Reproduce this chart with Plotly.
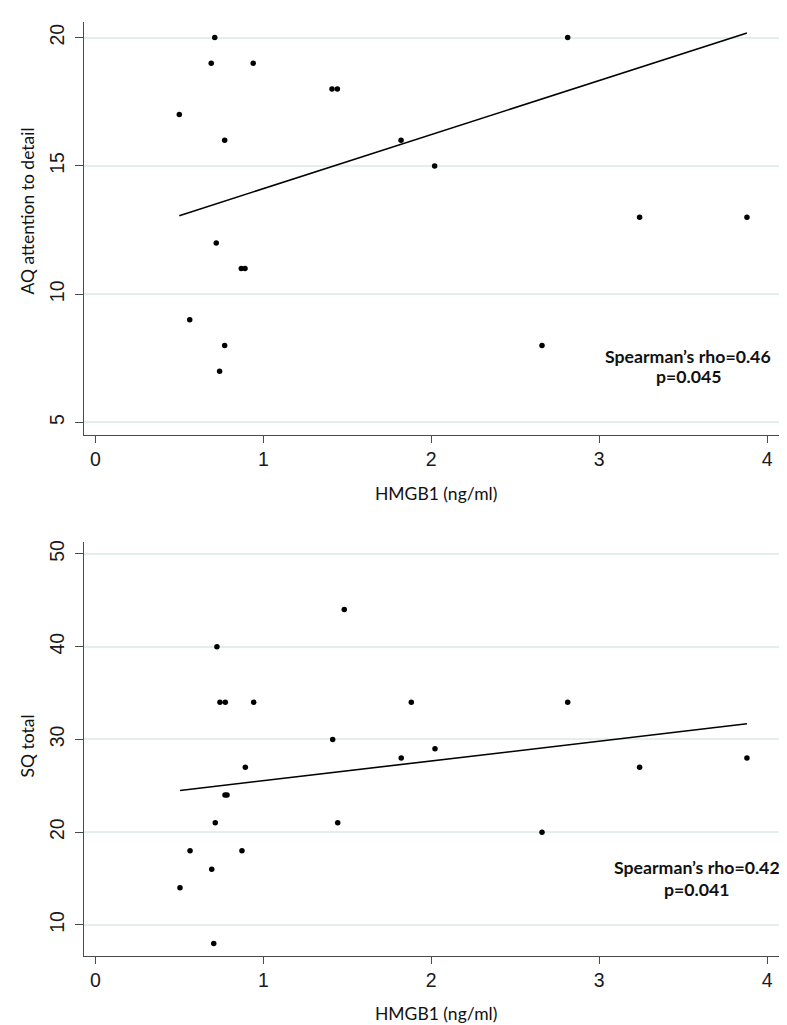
import plotly.graph_objects as go

W, H = 787, 1025

# ---- Data ----
hmgb1_aq = [0.711, 0.690, 0.940, 1.409, 1.441, 0.500, 0.770, 1.820, 0.720, 0.869,
            0.891, 0.562, 0.770, 0.740, 2.812, 2.020, 3.240, 3.879, 2.659]
aq_detail = [20, 19, 19, 18, 18, 17, 16, 16, 12, 11,
             11, 9, 8, 7, 20, 15, 13, 13, 8]
aq_fit_x = [0.500, 3.879]
aq_fit_y = [13.06, 20.18]

hmgb1_sq = [1.482, 0.724, 0.742, 0.774, 0.943, 1.413, 1.821, 0.893, 0.772, 0.784,
            0.714, 1.443, 0.564, 0.873, 0.693, 0.504, 0.705, 1.881, 2.812, 2.022,
            3.240, 3.879, 2.659]
sq_total = [44, 40, 34, 34, 34, 30, 28, 27, 24, 24,
            21, 21, 18, 18, 16, 14, 8, 34, 34, 29,
            27, 28, 20]
sq_fit_x = [0.504, 3.879]
sq_fit_y = [24.49, 31.68]

x_ticks = [0, 1, 2, 3, 4]
aq_ticks = [5, 10, 15, 20]
sq_ticks = [10, 20, 30, 40, 50]

x_title = "HMGB1 (ng/ml)"
aq_title = "AQ attention to detail"
sq_title = "SQ total"
aq_stat = ["Spearman\u2019s rho=0.46", "p=0.045"]
sq_stat = ["Spearman\u2019s rho=0.42", "p=0.041"]

# ---- helpers ----
def px(x):
    return x / W

def py(y):
    return 1 - y / H

TICK_FONT = dict(family="Liberation Sans, Arial, sans-serif", size=19.5, color="#1a1a1a")
TEXT_FONT = "Lato, Calibri, sans-serif"
AXIS_COLOR = "#4a4a4a"
GRID_COLOR = "#e3eeef"

fig = go.Figure()

marker = dict(color="black", size=5.5)
fig.add_trace(go.Scatter(x=hmgb1_aq, y=aq_detail, mode="markers", marker=marker,
                         xaxis="x", yaxis="y", hoverinfo="x+y"))
fig.add_trace(go.Scatter(x=aq_fit_x, y=aq_fit_y, mode="lines",
                         line=dict(color="black", width=1.6), xaxis="x", yaxis="y"))
fig.add_trace(go.Scatter(x=hmgb1_sq, y=sq_total, mode="markers", marker=marker,
                         xaxis="x2", yaxis="y2", hoverinfo="x+y"))
fig.add_trace(go.Scatter(x=sq_fit_x, y=sq_fit_y, mode="lines",
                         line=dict(color="black", width=1.6), xaxis="x2", yaxis="y2"))

x_dom = [px(76), px(770.7)]
x_rng = [-0.0673, 4.068]

common_x = dict(domain=x_dom, range=x_rng, tickvals=x_ticks, showline=True,
                linecolor=AXIS_COLOR, linewidth=1.4, ticks="outside", ticklen=7,
                tickwidth=1.2, tickcolor=AXIS_COLOR, showgrid=False, zeroline=False,
                tickfont=TICK_FONT, fixedrange=True)
common_y = dict(showline=True, linecolor=AXIS_COLOR, linewidth=1.4, ticks="outside",
                ticklen=8, tickwidth=1.2, tickcolor=AXIS_COLOR, showgrid=True,
                gridcolor=GRID_COLOR, gridwidth=1.5, zeroline=False, tickangle=-90,
                tickfont=TICK_FONT, ticklabelstandoff=3, fixedrange=True)

fig.update_layout(
    width=W, height=H,
    margin=dict(l=0, r=0, t=0, b=0),
    paper_bgcolor="white", plot_bgcolor="white",
    showlegend=False,
    xaxis=dict(anchor="y", **common_x),
    yaxis=dict(anchor="x", domain=[py(425.7), py(11.7)], range=[4.518, 20.62],
               tickvals=aq_ticks, **common_y),
    xaxis2=dict(anchor="y2", **common_x),
    yaxis2=dict(anchor="x2", domain=[py(947.7), py(533.3)], range=[6.66, 51.26],
                tickvals=sq_ticks, **common_y),
)

ann = []
def add_text(text, x, y, size, bold=False, angle=0):
    t = f"<b>{text}</b>" if bold else text
    ann.append(dict(text=t, x=px(x), y=py(y), xref="paper", yref="paper",
                    xanchor="center", yanchor="middle", showarrow=False,
                    textangle=angle,
                    font=dict(family=TEXT_FONT, size=size, color="#111111")))

add_text(x_title, 428, 484, 17.5)
add_text(x_title, 428, 1005, 17.5)
add_text(aq_title, 20, 202, 17.5, angle=-90)
add_text(sq_title, 20, 738, 17.5, angle=-90)
add_text(aq_stat[0], 680, 347, 17.7, bold=True)
add_text(aq_stat[1], 681, 367, 17.7, bold=True)
add_text(sq_stat[0], 689, 859, 17.7, bold=True)
add_text(sq_stat[1], 689, 881, 17.7, bold=True)

fig.update_layout(annotations=ann)

fig.write_html("out.html")
